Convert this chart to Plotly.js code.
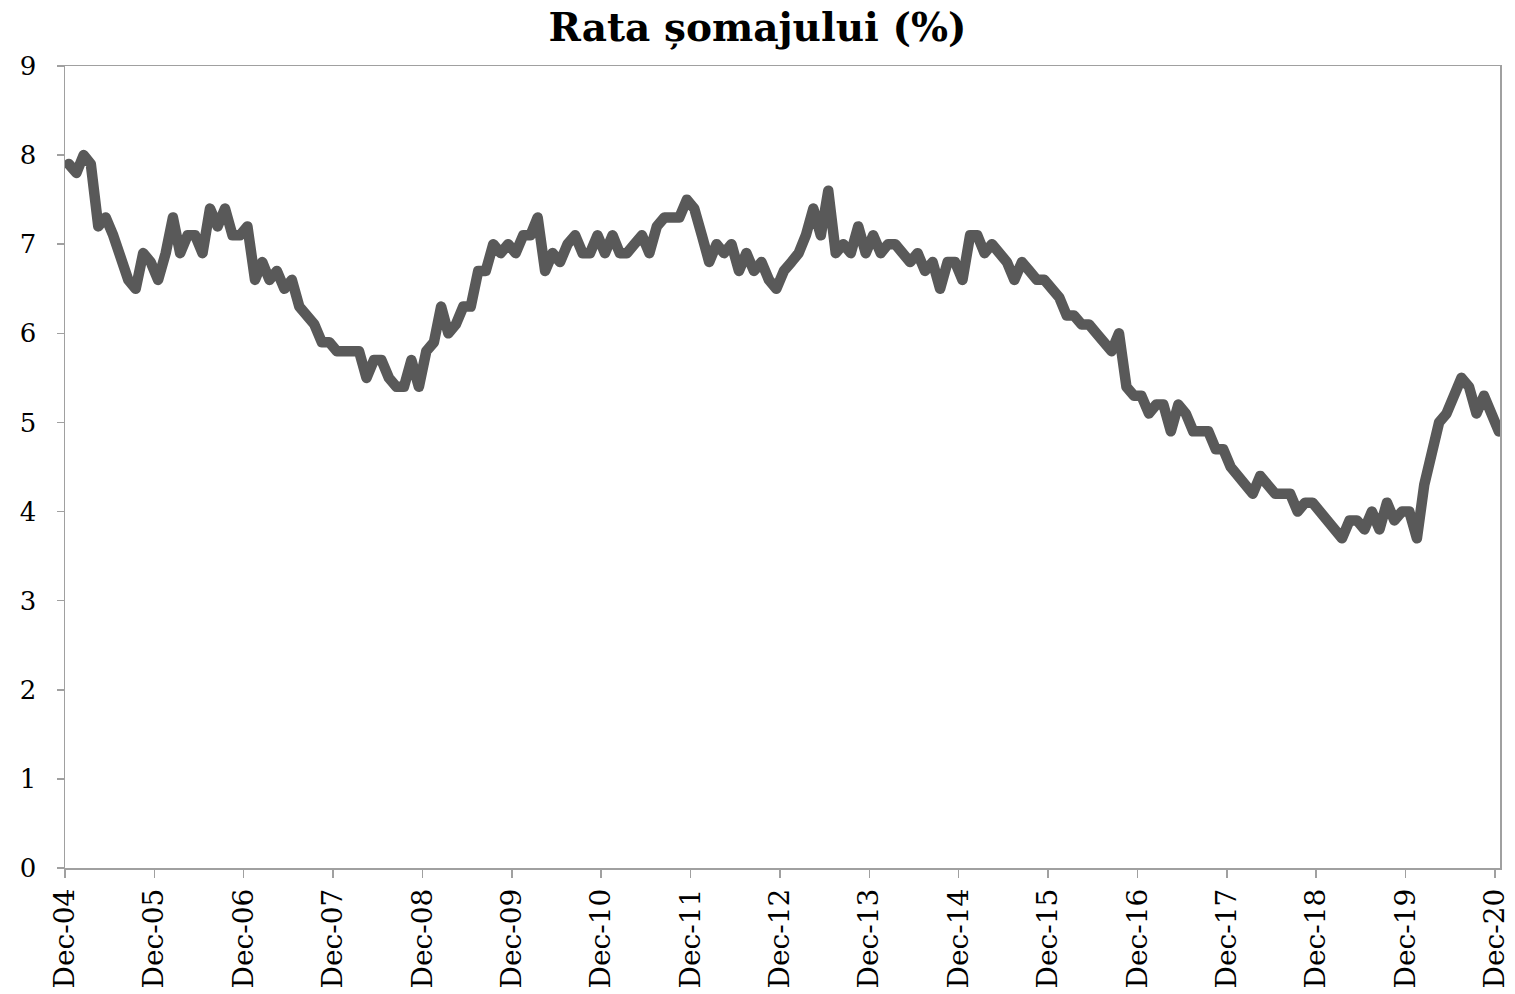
<!DOCTYPE html>
<html>
<head>
<meta charset="utf-8">
<script src="https://cdn.plot.ly/plotly-3.0.1.min.js"></script>
<style>
html,body{margin:0;padding:0;background:#fff;}
#chart{width:1515px;height:994px;}
#chart .js-line{stroke-linejoin:round !important;stroke-linecap:round !important;}
</style>
</head>
<body>
<div id="chart"></div>
<script>
// Monthly unemployment rate (%), Dec 2004 - Dec 2020
const dec2004 = [7.9];
const y2005 = [7.8, 8.0, 7.9, 7.2, 7.3, 7.1, 6.8, 6.6, 6.5, 6.9, 6.8, 6.6];
const y2006 = [6.9, 7.3, 6.9, 7.1, 7.1, 6.9, 7.4, 7.2, 7.4, 7.1, 7.1, 7.2];
const y2007 = [6.6, 6.8, 6.6, 6.7, 6.5, 6.6, 6.3, 6.2, 6.1, 5.9, 5.9, 5.8];
const y2008 = [5.8, 5.8, 5.8, 5.5, 5.7, 5.7, 5.5, 5.4, 5.4, 5.7, 5.4, 5.8];
const y2009 = [5.9, 6.3, 6.0, 6.1, 6.3, 6.3, 6.7, 6.7, 7.0, 6.9, 7.0, 6.9];
const y2010 = [7.1, 7.1, 7.3, 6.7, 6.9, 6.8, 7.0, 7.1, 6.9, 6.9, 7.1, 6.9];
const y2011 = [7.1, 6.9, 6.9, 7.0, 7.1, 6.9, 7.2, 7.3, 7.3, 7.3, 7.5, 7.4];
const y2012 = [7.1, 6.8, 7.0, 6.9, 7.0, 6.7, 6.9, 6.7, 6.8, 6.6, 6.5, 6.7];
const y2013 = [6.8, 6.9, 7.1, 7.4, 7.1, 7.6, 6.9, 7.0, 6.9, 7.2, 6.9, 7.1];
const y2014 = [6.9, 7.0, 7.0, 6.9, 6.8, 6.9, 6.7, 6.8, 6.5, 6.8, 6.8, 6.6];
const y2015 = [7.1, 7.1, 6.9, 7.0, 6.9, 6.8, 6.6, 6.8, 6.7, 6.6, 6.6, 6.5];
const y2016 = [6.4, 6.2, 6.2, 6.1, 6.1, 6.0, 5.9, 5.8, 6.0, 5.4, 5.3, 5.3];
const y2017 = [5.1, 5.2, 5.2, 4.9, 5.2, 5.1, 4.9, 4.9, 4.9, 4.7, 4.7, 4.5];
const y2018 = [4.4, 4.3, 4.2, 4.4, 4.3, 4.2, 4.2, 4.2, 4.0, 4.1, 4.1, 4.0];
const y2019 = [3.9, 3.8, 3.7, 3.9, 3.9, 3.8, 4.0, 3.8, 4.1, 3.9, 4.0, 4.0];
const y2020 = [3.7, 4.3, 4.6, 5.0, 5.1, 5.3, 5.5, 5.4, 5.1, 5.3, 5.1, 4.9];

const rate = [].concat(dec2004, y2005, y2006, y2007, y2008, y2009, y2010, y2011,
  y2012, y2013, y2014, y2015, y2016, y2017, y2018, y2019, y2020);

// month labels for each value, starting Dec 2004
const months = rate.map((_, i) => {
  const total = 2004 * 12 + 11 + i;
  const yr = Math.floor(total / 12), mo = total % 12 + 1;
  return yr + "-" + String(mo).padStart(2, "0");
});

// tick positions: December of every year
const tickYears = [2004,2005,2006,2007,2008,2009,2010,2011,2012,2013,2014,2015,2016,2017,2018,2019,2020];
const tickVals = tickYears.map(y => y + "-12-01");
const tickText = tickYears.map(y => "Dec-" + String(y % 100).padStart(2, "0"));

const FONT = "Georgia, 'DejaVu Serif', serif";

const trace = {
  x: months,
  y: rate,
  type: "scatter",
  mode: "lines",
  xperiod: "M1",
  xperiodalignment: "middle",
  line: {color: "#595959", width: 10.5},
  hoverinfo: "x+y"
};

const layout = {
  width: 1515,
  height: 994,
  margin: {l: 65, r: 15, t: 66, b: 126},
  paper_bgcolor: "#ffffff",
  plot_bgcolor: "#ffffff",
  showlegend: false,
  title: {
    text: "<b>Rata șomajului (%)</b>",
    font: {family: FONT, size: 39, color: "#000000"},
    x: 0.5, xanchor: "center",
    y: 0.972, yanchor: "middle"
  },
  xaxis: {
    type: "date",
    range: ["2004-12-01", "2020-12-21"],
    tickvals: tickVals,
    ticktext: tickText,
    tickangle: -90,
    ticks: "outside",
    ticklen: 8,
    tickcolor: "#a0a0a0",
    tickwidth: 1.5,
    showline: true,
    linecolor: "#a0a0a0",
    linewidth: 1.5,
    mirror: true,
    showgrid: false,
    zeroline: false,
    tickfont: {family: FONT, size: 28, color: "#000000"}
  },
  yaxis: {
    range: [0, 9],
    tickvals: [0,1,2,3,4,5,6,7,8,9],
    ticks: "outside",
    ticklen: 7,
    tickcolor: "#a0a0a0",
    tickwidth: 1.5,
    ticklabelstandoff: 15,
    showline: true,
    linecolor: "#a0a0a0",
    linewidth: 1.5,
    mirror: true,
    showgrid: false,
    zeroline: false,
    tickfont: {family: FONT, size: 26, color: "#000000"}
  }
};

Plotly.newPlot("chart", [trace], layout, {displayModeBar: false, staticPlot: true});
</script>
</body>
</html>
